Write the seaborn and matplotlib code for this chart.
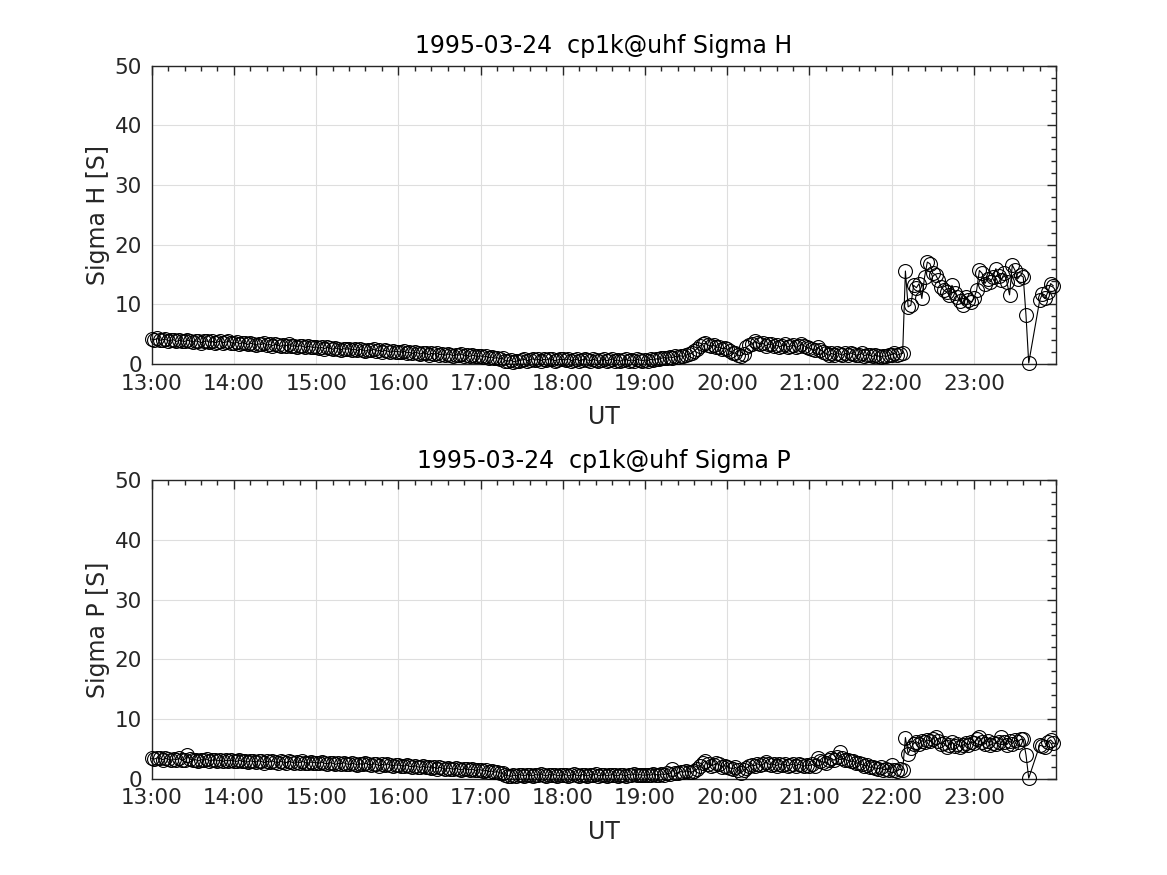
import matplotlib
matplotlib.use("Agg")
import matplotlib.pyplot as plt
from matplotlib.ticker import MultipleLocator, FixedLocator, FixedFormatter
import numpy as np
import pandas as pd
import seaborn as sns

# ---------------- data ----------------
date_str = "1995-03-24"
site = "cp1k@uhf"
panel_names = ["Sigma H", "Sigma P"]
ylabels = ["Sigma H [S]", "Sigma P [S]"]
hour_ticks = [13, 14, 15, 16, 17, 18, 19, 20, 21, 22, 23]
hour_labels = ["13:00", "14:00", "15:00", "16:00", "17:00", "18:00",
               "19:00", "20:00", "21:00", "22:00", "23:00"]

# minutes after 13:00 UT (2-min integrations, data gap 23:40-23:48)
minutes = list(range(0, 642, 2)) + [648, 650, 652, 654, 656, 658]

sigma_h = [
    # 13:00-13:58
    4.2, 4.1, 4.3, 4.0, 4.1, 4.2, 3.9, 4.0, 4.1, 3.8, 4.0, 3.9, 3.8, 4.0, 3.9,
    3.7, 3.9, 3.8, 3.6, 3.8, 3.9, 3.7, 3.8, 3.6, 3.7, 3.9, 3.6, 3.7, 3.8, 3.6,
    # 14:00-14:58
    3.5, 3.7, 3.4, 3.6, 3.5, 3.3, 3.5, 3.4, 3.2, 3.4, 3.3, 3.5, 3.2, 3.3, 3.1,
    3.3, 3.2, 3.0, 3.2, 3.1, 3.3, 3.0, 3.1, 2.9, 3.1, 3.0, 2.8, 3.0, 2.9, 2.8,
    # 15:00-15:58
    2.9, 2.7, 2.8, 2.6, 2.8, 2.7, 2.5, 2.7, 2.6, 2.4, 2.6, 2.5, 2.6, 2.4, 2.5,
    2.3, 2.5, 2.4, 2.2, 2.4, 2.3, 2.5, 2.2, 2.3, 2.1, 2.3, 2.2, 2.0, 2.2, 2.1,
    # 16:00-16:58
    2.1, 2.0, 2.2, 1.9, 2.0, 1.8, 2.0, 1.9, 1.7, 1.9, 1.8, 1.6, 1.8, 1.7, 1.9,
    1.6, 1.7, 1.5, 1.7, 1.6, 1.4, 1.6, 1.5, 1.7, 1.4, 1.5, 1.3, 1.5, 1.4, 1.3,
    # 17:00-17:58
    1.4, 1.2, 1.3, 1.1, 1.2, 1.0, 1.1, 0.9, 1.0, 0.6, 0.5, 0.7, 0.4, 0.5, 0.6,
    0.7, 0.8, 0.6, 0.7, 0.9, 0.7, 0.8, 0.6, 0.8, 0.7, 0.9, 0.8, 0.6, 0.7, 0.8,
    # 18:00-18:58
    0.8, 0.7, 0.9, 0.6, 0.7, 0.8, 0.6, 0.7, 0.9, 0.7, 0.6, 0.8, 0.7, 0.5, 0.7,
    0.8, 0.6, 0.7, 0.9, 0.6, 0.7, 0.5, 0.7, 0.8, 0.6, 0.7, 0.6, 0.8, 0.7, 0.6,
    # 19:00-19:58
    0.7, 0.6, 0.8, 0.7, 0.9, 0.8, 1.0, 1.1, 1.0, 1.2, 1.1, 1.3, 1.2, 1.4, 1.3,
    1.5, 1.7, 1.8, 2.2, 2.6, 3.0, 3.4, 3.5, 3.2, 3.0, 3.2, 2.8, 2.9, 2.6, 2.7,
    # 20:00-20:58
    2.5, 2.2, 1.8, 1.9, 1.5, 1.4, 1.7, 2.8, 3.2, 3.4, 3.8, 3.6, 3.3, 3.5, 3.1,
    3.3, 3.4, 3.0, 3.2, 2.9, 3.1, 3.3, 2.9, 3.0, 3.2, 2.8, 3.0, 3.3, 3.1, 2.8,
    # 21:00-21:58
    2.7, 2.5, 2.3, 2.8, 2.4, 2.1, 1.8, 1.5, 1.8, 1.6, 1.9, 1.7, 1.5, 1.8, 1.6,
    1.9, 1.7, 1.5, 1.6, 1.8, 1.4, 1.6, 1.5, 1.3, 1.5, 1.4, 1.2, 1.4, 1.3, 1.5,
    # 22:00-22:08
    1.6, 1.8, 1.5, 1.7, 1.8,
    # 22:10-23:40
    15.6, 9.6, 9.9, 13.2, 12.8, 13.5, 11.0, 14.6, 17.1, 16.8, 15.2, 15.0, 14.1,
    13.0, 12.4, 12.1, 11.6, 13.2, 12.0, 11.3, 10.5, 9.9, 11.3, 10.8, 10.4, 11.0,
    12.4, 15.7, 15.2, 13.5, 14.3, 13.8, 14.6, 16.0, 14.8, 14.1, 15.2, 13.8, 11.6,
    16.6, 15.7, 14.3, 14.9, 14.6, 8.2, 0.2,
    # 23:48-23:58
    10.7, 11.8, 11.0, 12.1, 13.5, 13.1,
]

sigma_p = [
    # 13:00-13:58
    3.4, 3.3, 3.5, 3.4, 3.2, 3.4, 3.3, 3.1, 3.3, 3.2, 3.4, 3.1, 3.2, 4.0, 3.3,
    3.1, 3.2, 3.0, 3.2, 3.1, 3.3, 3.0, 3.1, 3.2, 3.0, 3.1, 2.9, 3.1, 3.0, 3.1,
    # 14:00-14:58
    3.0, 2.9, 3.1, 2.9, 3.0, 2.8, 3.0, 2.9, 2.8, 3.0, 2.9, 2.7, 2.9, 2.8, 3.0,
    2.8, 2.7, 2.9, 2.8, 2.7, 2.9, 2.8, 2.6, 2.8, 2.7, 2.9, 2.7, 2.6, 2.8, 2.7,
    # 15:00-15:58
    2.7, 2.6, 2.8, 2.6, 2.5, 2.7, 2.6, 2.4, 2.6, 2.5, 2.7, 2.5, 2.4, 2.6, 2.5,
    2.3, 2.5, 2.4, 2.6, 2.4, 2.3, 2.5, 2.4, 2.2, 2.4, 2.3, 2.5, 2.3, 2.2, 2.3,
    # 16:00-16:58
    2.3, 2.2, 2.1, 2.3, 2.1, 2.0, 2.2, 2.0, 1.9, 2.1, 1.9, 2.0, 1.8, 1.9, 1.7,
    1.9, 1.8, 1.6, 1.8, 1.7, 1.6, 1.8, 1.6, 1.5, 1.7, 1.6, 1.5, 1.6, 1.4, 1.5,
    # 17:00-17:58
    1.5, 1.3, 1.4, 1.2, 1.3, 1.1, 1.2, 1.0, 0.9, 0.6, 0.5, 0.4, 0.6, 0.5, 0.7,
    0.6, 0.5, 0.7, 0.6, 0.5, 0.7, 0.6, 0.8, 0.6, 0.5, 0.7, 0.6, 0.7, 0.5, 0.6,
    # 18:00-18:58
    0.6, 0.7, 0.5, 0.6, 0.8, 0.6, 0.5, 0.7, 0.6, 0.5, 0.7, 0.6, 0.8, 0.5, 0.6,
    0.7, 0.5, 0.6, 0.7, 0.6, 0.5, 0.7, 0.6, 0.5, 0.7, 0.6, 0.8, 0.6, 0.7, 0.6,
    # 19:00-19:58
    0.6, 0.7, 0.6, 0.8, 0.7, 0.6, 0.8, 0.7, 0.9, 0.8, 1.6, 0.9, 1.0, 1.2, 1.1,
    1.3, 1.2, 1.1, 1.3, 1.6, 2.1, 2.6, 3.0, 2.5, 2.2, 2.3, 2.6, 2.4, 2.0, 2.2,
    # 20:00-20:58
    2.0, 1.8, 1.7, 1.9, 1.5, 0.9, 1.4, 1.8, 2.1, 2.3, 2.2, 2.5, 2.3, 2.4, 2.8,
    2.5, 2.3, 2.4, 2.2, 2.5, 2.3, 2.4, 2.2, 2.3, 2.5, 2.2, 2.4, 2.3, 2.1, 2.3,
    # 21:00-21:58
    2.2, 2.4, 2.1, 3.4, 3.0, 2.8, 2.6, 3.2, 3.4, 3.1, 3.6, 4.5, 3.4, 3.2, 3.1,
    2.9, 3.0, 2.6, 2.7, 2.4, 2.2, 2.3, 1.9, 2.0, 1.8, 1.7, 1.9, 1.5, 1.6, 1.5,
    # 22:00-22:08
    2.3, 1.5, 1.3, 1.6, 1.4,
    # 22:10-23:40
    6.9, 4.2, 5.1, 5.9, 6.2, 5.8, 6.4, 6.1, 6.5, 6.3, 6.6, 7.0, 6.3, 5.8, 6.0,
    5.4, 5.7, 6.2, 5.5, 5.8, 5.4, 5.6, 6.0, 5.7, 6.2, 6.0, 6.6, 7.0, 6.1, 5.8,
    6.4, 5.6, 6.0, 5.9, 6.2, 7.0, 6.2, 5.7, 6.3, 5.9, 6.5, 6.1, 6.6, 6.6, 4.0,
    0.1,
    # 23:48-23:58
    5.6, 5.5, 5.3, 6.2, 6.5, 6.0,
]

ut = [13 + m / 60.0 for m in minutes]
df = pd.DataFrame({"UT": ut, "Sigma H": sigma_h, "Sigma P": sigma_p})

# ---------------- style ----------------
sns.set_style("white")
text_col = "#262626"
plt.rcParams["font.family"] = ["DejaVu Sans"]
plt.rcParams["text.color"] = text_col
plt.rcParams["axes.labelcolor"] = text_col
plt.rcParams["xtick.color"] = text_col
plt.rcParams["ytick.color"] = text_col

fig = plt.figure(figsize=(11.67, 8.75), dpi=100)
positions = [[0.13, 0.5838, 0.775, 0.3412], [0.13, 0.11, 0.775, 0.3412]]

for pos, col, name, ylab in zip(positions, ["Sigma H", "Sigma P"], panel_names, ylabels):
    ax = fig.add_axes(pos)
    sns.lineplot(data=df, x="UT", y=col, ax=ax, estimator=None, sort=False,
                 color="black", linewidth=0.8, marker="o", markersize=10,
                 markerfacecolor="none", markeredgecolor="black",
                 markeredgewidth=0.8, clip_on=False, zorder=3)
    ax.set_xlim(13, 24)
    ax.set_ylim(0, 50)
    ax.xaxis.set_major_locator(FixedLocator(hour_ticks))
    ax.xaxis.set_major_formatter(FixedFormatter(hour_labels))
    ax.xaxis.set_minor_locator(MultipleLocator(0.2))
    ax.yaxis.set_major_locator(MultipleLocator(10))
    ax.yaxis.set_minor_locator(MultipleLocator(2))
    ax.tick_params(which="both", direction="in", top=True, right=True,
                   width=1.0, colors="#262626", labelsize=15.5)
    ax.tick_params(which="major", length=6.5, pad=7)
    ax.tick_params(which="minor", length=3.5)
    ax.grid(True, which="major", color="#dedede", linewidth=0.8)
    ax.set_axisbelow(True)
    for s in ax.spines.values():
        s.set_color("#262626")
        s.set_linewidth(1.0)
    ax.set_title(f"{date_str}  {site} {name}", fontsize=17, color="black", pad=9)
    ax.set_xlabel("UT", fontsize=17, labelpad=8)
    ax.set_ylabel(ylab, fontsize=17, labelpad=3)

fig.savefig("out.png", dpi=100)
